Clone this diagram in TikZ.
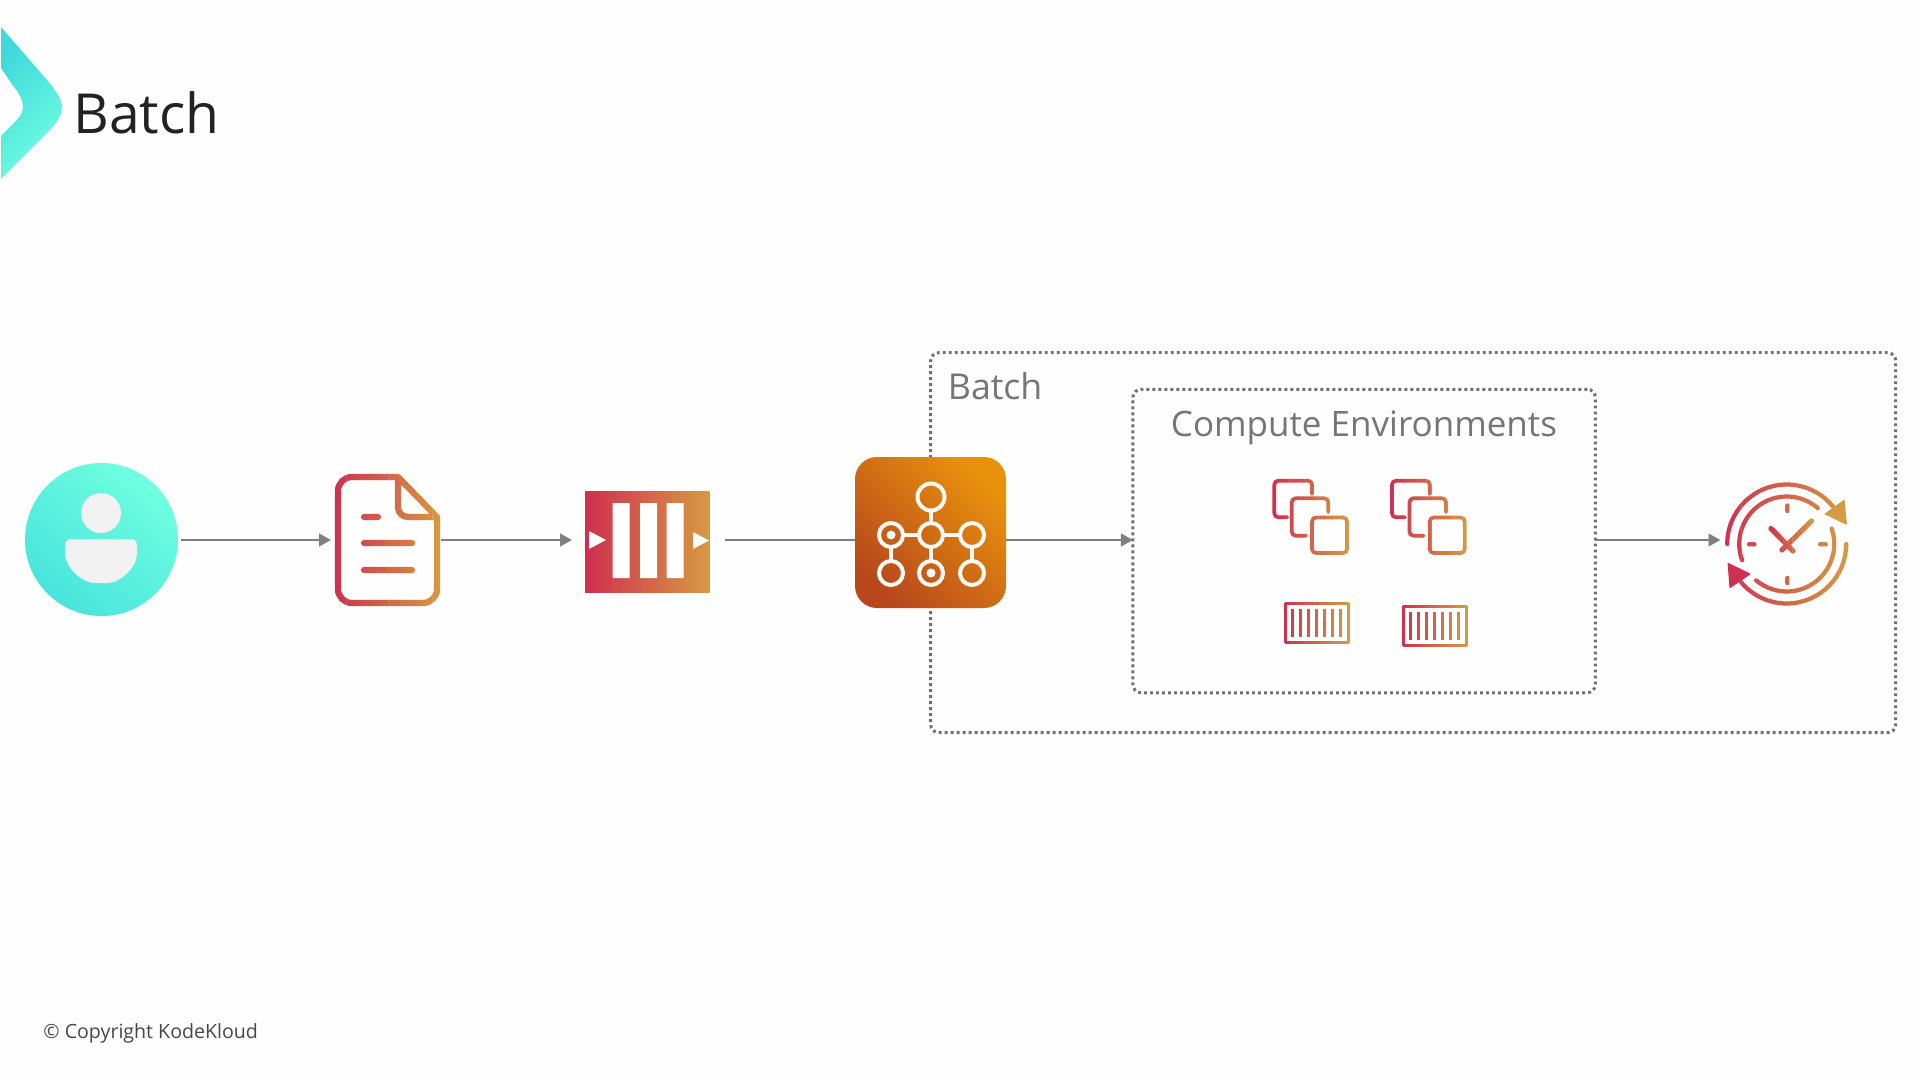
\documentclass[tikz,border=0pt]{standalone}
\usepackage{fontspec}
\setmainfont{Open Sans}
\usetikzlibrary{arrows.meta,calc}
\definecolor{gStart}{HTML}{CF2F50}
\definecolor{gEnd}{HTML}{D69A42}
\definecolor{connGrey}{HTML}{7F7F7F}
\definecolor{dotGrey}{HTML}{707070}
\definecolor{labelGrey}{HTML}{767676}
\definecolor{titleInk}{HTML}{222222}
\definecolor{tealDark}{HTML}{3FD8DC}
\definecolor{tealLight}{HTML}{70FFE0}
\definecolor{tealMid}{HTML}{48E4DD}
\definecolor{orangeDark}{HTML}{B8481C}
\definecolor{orangeLight}{HTML}{E8920C}
\definecolor{softWhite}{HTML}{F2F2F2}
\tikzset{
  conn/.style={draw=connGrey,line width=1.45pt},
  connarrow/.style={conn,-{Triangle[length=6pt,width=6.2pt]}},
  dotbox/.style={draw=dotGrey,line width=1.5pt,dash pattern=on 1.4pt off 1.6pt,rounded corners=4pt,inner sep=0pt,outer sep=0pt},
  iconbox/.style={inner sep=0pt,outer sep=0pt},
  bcircle/.style={circle,draw=white!96!orange,line width=2pt,inner sep=0pt,outer sep=0pt,minimum size=24*0.5pt},
  bdot/.style={circle,fill=white,inner sep=0pt,minimum size=9*0.5pt},
  blink/.style={draw=white!96!orange,line width=1.7pt},
  lbl/.style={anchor=base west,text=labelGrey,inner sep=0pt},
}
% vertical slices give a stroke a horizontal gradient
\newcommand{\gradstroke}[6]{%
  \foreach \gi in {0,...,#5}{%
    \pgfmathsetmacro{\gp}{\gi*100/#5}%
    \pgfmathsetmacro{\ga}{#1+(#2-#1)*\gi/(#5+1)}%
    \pgfmathsetmacro{\gb}{#1+(#2-#1)*(\gi+1)/(#5+1)+0.4}%
    \begin{scope}
      \clip (\ga,#3) rectangle (\gb,#4);
      \colorlet{gc}{gEnd!\gp!gStart}%
      \draw[color=gc,line join=round] #6;
    \end{scope}}%
}
\begin{document}
\begin{tikzpicture}[x=0.5pt,y=-0.5pt]
\useasboundingbox (0,0) rectangle (1920,1080);
\fill[white!99.5!black] (0,0) rectangle (1920,1080);
\coordinate (row) at (0,540);

% logo
\shade[top color=tealDark,bottom color=tealLight,shading angle=45]
  (1,27) -- (47,80) .. controls (57,92) and (62,100) .. (62,107)
  .. controls (62,116) and (55,125) .. (47,133) -- (1,179) -- (1,136)
  -- (15,122) .. controls (20,117) and (23,112) .. (23,107)
  .. controls (23,100) and (19,93) .. (14,87) -- (1,68) -- cycle;
\node (title) [anchor=base west,inner sep=0pt,text=titleInk,font=\fontsize{27.6}{32}\selectfont] at (73,134) {Batch};

% containers
\node (batchbox) [dotbox,minimum width=965*0.5pt,minimum height=380*0.5pt] at (1413.2,542.7) {};
\node (compute) [dotbox,minimum width=462.3*0.5pt,minimum height=303.5*0.5pt] at (1364.1,541) {};
\node (batchlabel) [lbl,font=\fontsize{17.85}{21}\selectfont] at (947.5,399) {Batch};
\node (computelabel) [lbl,font=\fontsize{17.5}{21}\selectfont] at (1170.5,436) {Compute Environments};

% user
\node (user) [circle,iconbox,minimum size=153*0.5pt,top color=tealLight,bottom color=tealMid,shading angle=-40] at (101.5,539.5) {};
\node (userhead) [circle,iconbox,minimum size=40*0.5pt,fill=softWhite] at (101,513) {};
\fill[softWhite,rounded corners=3pt] (65,539) -- (137,539) -- (137,547) .. controls (137,568) and (120,583) .. (101,583) .. controls (82,583) and (65,568) .. (65,547) -- cycle;

% document
\node (doc) [iconbox,minimum width=105*0.5pt,minimum height=132*0.5pt] at (387.5,540) {};
\begin{scope}[line width=3.1pt,line cap=round]
\gradstroke{332}{443}{470}{610}{30}{[rounded corners=7pt] (398,477) -- (338,477) -- (338,603) -- (437,603) [sharp corners] -- (437,517) -- (398,477) -- cycle
  [rounded corners=5pt] (398,477) -- (398,517) -- (437,517)
  [sharp corners] (364,517) -- (378,517) (364,543) -- (412,543) (364,570) -- (412,570)}
\end{scope}

% queue
\node (queue) [iconbox,minimum width=124.5*0.5pt,minimum height=101*0.5pt,left color=gStart,right color=gEnd] at (647.3,541.5) {};
\fill[white] (612.5,503) rectangle (629.5,578) (640,503) rectangle (657,578) (666.7,503) rectangle (683.5,578);
\fill[white] (589,531) -- (606,540) -- (589,549) -- cycle (693,532) -- (709,540.5) -- (693,549) -- cycle;

% batch service icon
\node (service) [iconbox,minimum size=151*0.5pt,rounded corners=11pt,top color=orangeLight,bottom color=orangeDark,shading angle=-45] at (930.5,532.5) {};
\node (n0) [bcircle,minimum size=27*0.5pt] at (931,497) {};
\node (n1) [bcircle] at (891,535) {};
\node (n2) [bcircle] at (931,535) {};
\node (n3) [bcircle] at (972,535) {};
\node (n4) [bcircle] at (891,573) {};
\node (n5) [bcircle] at (931,573) {};
\node (n6) [bcircle] at (972,573) {};
\node (d1) [bdot] at (891,535) {};
\node (d5) [bdot] at (931,573) {};
\draw[blink] (n0) -- (n2);
\draw[blink] (n1) -- (n2);
\draw[blink] (n2) -- (n3);
\draw[blink] (n2) -- (n5);
\draw[blink] (n1) -- (n4);
\draw[blink] (n3) -- (n6);

% instance stacks
\begin{scope}[line width=1.85pt,line cap=round]
\foreach \dx in {0,117.7}{
\begin{scope}[xshift=\dx*0.5pt]
\gradstroke{1270}{1352}{476}{558}{16}{[rounded corners=2pt] (1287.3,517.3) -- (1274.3,517.3) -- (1274.3,480.7) -- (1312,480.7) -- (1312,494)
  (1306,535.7) -- (1291.7,535.7) -- (1291.7,498.3) -- (1328.3,498.3) -- (1328.3,512)
  (1312,517.5) -- (1347,517.5) -- (1347,553) -- (1312,553) -- cycle}
\end{scope}}
\end{scope}

% container icons
\begin{scope}[line width=1.5pt]
\foreach \dx/\dy in {0/0,118/3.3}{
\begin{scope}[xshift=\dx*0.5pt,yshift=-\dy*0.5pt]
\gradstroke{1282}{1351}{600}{646}{14}{(1285,603) rectangle (1348,642.5)
  (1292.3,608.5) -- (1292.3,636.5) (1300.3,608.5) -- (1300.3,636.5) (1308.3,608.5) -- (1308.3,636.5) (1316.3,608.5) -- (1316.3,636.5) (1324.3,608.5) -- (1324.3,636.5) (1332.3,608.5) -- (1332.3,636.5) (1340.3,608.5) -- (1340.3,636.5)}
\end{scope}}
\end{scope}

% clock
\node (clock) [iconbox,minimum width=125*0.5pt,minimum height=125*0.5pt] at (1787,544) {};
\coordinate (cc) at (1786.7,544);
\begin{scope}[line width=2.1pt,line cap=round]
\gradstroke{1720}{1852}{478}{612}{30}{
  (cc) ++(-180:59.5) arc[start angle=-180,end angle=-36,radius=59.5]
  (cc) ++(0:59.5) arc[start angle=0,end angle=140,radius=59.5]
  (cc) ++(-200:47.5) arc[start angle=-200,end angle=-49,radius=47.5]
  (cc) ++(-19:47.5) arc[start angle=-19,end angle=130,radius=47.5]
  (1787.3,505.5) -- (1787.3,511) (1787.3,578) -- (1787.3,583)
  (1749,544.3) -- (1754.5,544.3) (1820,544.3) -- (1826,544.3)}
\gradstroke{1765}{1815}{515}{555}{10}{[line width=2.6pt] (1771,528.5) -- (1793,551) (1811.5,521) -- (1782,550)}
\end{scope}
\fill[gEnd,rounded corners=0.5pt] (1844.5,499.5) -- (1824,514) -- (1847,525) -- cycle;
\fill[gStart,rounded corners=0.5pt] (1727.5,562.5) -- (1751,574) -- (1729.5,588.5) -- cycle;

% connectors
\draw[connarrow,shorten <=1.5pt,shorten >=2pt] (user.east |- row) -- (doc.west |- row);
\draw[connarrow,shorten <=0.5pt,shorten >=6.5pt] (doc.east |- row) -- (queue.west |- row);
\draw[conn,shorten <=7.5pt] (queue.east |- row) -- (service.west |- row);
\draw[connarrow] (service.east |- row) -- (compute.west |- row);
\draw[connarrow,shorten >=2pt] (compute.east |- row) -- (clock.west |- row);

% footer
\node (copyright) [anchor=base west,inner sep=0pt,text=black!72,font=\fontsize{9.8}{12}\selectfont] at (43,1038) {© Copyright KodeKloud};
\end{tikzpicture}
\end{document}
